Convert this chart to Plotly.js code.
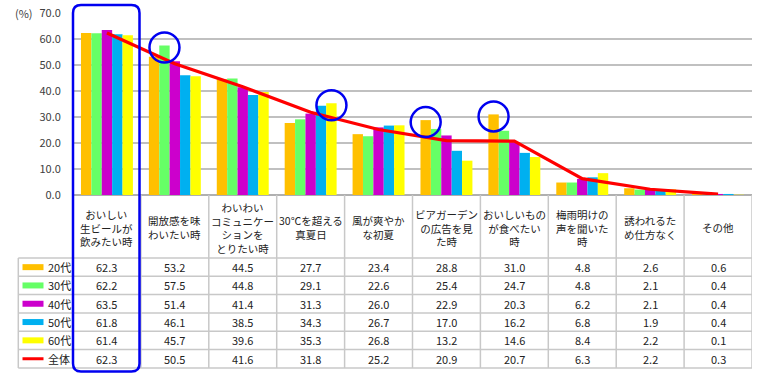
<!DOCTYPE html>
<html>
<head>
<meta charset="utf-8">
<script src="https://cdn.plot.ly/plotly-3.0.1.min.js"></script>
<style>html,body{margin:0;padding:0;background:#fff;}#chart{width:764px;height:374px;}</style>
</head>
<body>
<div id="chart"></div>
<script>
const categories = [
  "おいしい<br>生ビールが<br>飲みたい時",
  "開放感を味<br>わいたい時",
  "わいわい<br>コミュニケー<br>ションを<br>とりたい時",
  "30℃を超える<br>真夏日",
  "風が爽やか<br>な初夏",
  "ビアガーデン<br>の広告を見<br>た時",
  "おいしいもの<br>が食べたい<br>時",
  "梅雨明けの<br>声を聞いた<br>時",
  "誘われるた<br>め仕方なく",
  "その他"
];
const seriesNames = ["20代", "30代", "40代", "50代", "60代"];
const s20 = [62.3, 53.2, 44.5, 27.7, 23.4, 28.8, 31.0, 4.8, 2.6, 0.6];
const s30 = [62.2, 57.5, 44.8, 29.1, 22.6, 25.4, 24.7, 4.8, 2.1, 0.4];
const s40 = [63.5, 51.4, 41.4, 31.3, 26.0, 22.9, 20.3, 6.2, 2.1, 0.4];
const s50 = [61.8, 46.1, 38.5, 34.3, 26.7, 17.0, 16.2, 6.8, 1.9, 0.4];
const s60 = [61.4, 45.7, 39.6, 35.3, 26.8, 13.2, 14.6, 8.4, 2.2, 0.1];
const totalName = "全体";
const total = [62.3, 50.5, 41.6, 31.8, 25.2, 20.9, 20.7, 6.3, 2.2, 0.3];
const yTicks = [0, 10, 20, 30, 40, 50, 60, 70];
// highlighted bars: [category index, series index]
const highlights = [[1, 1], [3, 4], [5, 0], [6, 0]];

const seriesData = [s20, s30, s40, s50, s60];
const colors = ["#FFC000", "#66FF66", "#CC00CC", "#00B0F0", "#FFFF00"];
const lineColor = "#FF0000";
const FONT = "Noto Sans CJK JP, Noto Sans, sans-serif";

// layout geometry (pixels)
const W = 764, H = 374;
const L = 73, R = 752, T = 13, B = 195;
const px = p => (p - L) / (R - L);
const py = p => (B - p) / (B - T);
const bargap = 0.235;
const nS = seriesData.length;
const barW = (1 - bargap) / nS;

const idx = categories.map((c, i) => i);
const traces = seriesData.map((vals, k) => ({
  type: "bar", name: seriesNames[k], x: idx, y: vals,
  marker: {color: colors[k], line: {width: 0}},
  hoverinfo: "y", showlegend: false
}));
traces.push({
  type: "scatter", mode: "lines", name: totalName, x: idx, y: total,
  line: {color: lineColor, width: 3.2}, showlegend: false
});

const shapes = [];
const annotations = [];
const gridCol = "#c8c8c8";

// table geometry
const tableLeft = 18.3;
const headerTop = B, headerBottom = 258;
const rowLines = [258, 276.3, 294.6, 312.9, 331.2, 349.5, 368];

// vertical lines at category boundaries
for (let i = 0; i <= categories.length; i++) {
  shapes.push({type: "line", xref: "x", yref: "paper", x0: i - 0.5, x1: i - 0.5,
    y0: py(headerTop), y1: py(rowLines[rowLines.length - 1]),
    line: {color: gridCol, width: 1.5}, layer: "above"});
}
// legend column left border
shapes.push({type: "line", xref: "paper", yref: "paper", x0: px(tableLeft), x1: px(tableLeft),
  y0: py(rowLines[0]), y1: py(rowLines[rowLines.length - 1]), line: {color: gridCol, width: 1.5}});
// horizontal row lines
rowLines.forEach(r => {
  shapes.push({type: "line", xref: "paper", yref: "paper", x0: px(tableLeft), x1: 1,
    y0: py(r), y1: py(r), line: {color: gridCol, width: 1.5}});
});

// header text
categories.forEach((c, i) => {
  annotations.push({xref: "x", yref: "paper", x: i, y: py((headerTop + headerBottom) / 2 + 1),
    text: c, showarrow: false, xanchor: "center", yanchor: "middle",
    font: {family: FONT, size: 10.5, color: "#222"}, align: "center"});
});

// rows
const rowSeries = seriesData.concat([total]);
const rowNames = seriesNames.concat([totalName]);
const rowColors = colors.concat([lineColor]);
rowSeries.forEach((vals, r) => {
  const yc = (rowLines[r] + rowLines[r + 1]) / 2;
  vals.forEach((v, i) => {
    annotations.push({xref: "x", yref: "paper", x: i, y: py(yc), text: v.toFixed(1),
      showarrow: false, xanchor: "center", yanchor: "middle",
      font: {family: FONT, size: 11, color: "#222"}});
  });
  // legend swatch
  const isLine = r === rowSeries.length - 1;
  const th = isLine ? 3 : 6;
  shapes.push({type: "rect", xref: "paper", yref: "paper", x0: px(22.5), x1: px(43.5),
    y0: py(yc + th / 2), y1: py(yc - th / 2), fillcolor: rowColors[r], line: {width: 0}});
  annotations.push({xref: "paper", yref: "paper", x: px(45.5), y: py(yc), text: rowNames[r],
    showarrow: false, xanchor: "left", yanchor: "middle",
    font: {family: FONT, size: 11, color: "#222"}});
});

// (%) label
annotations.push({xref: "paper", yref: "paper", x: px(35), y: py(13.5), text: "(%)",
  showarrow: false, xanchor: "right", yanchor: "middle",
  font: {family: FONT, size: 11, color: "#404040"}});

// blue rounded highlight box around first category
const bx0 = px(73), bx1 = px(139.5), by0 = py(371.5), by1 = py(5);
const rx = 8 / (R - L), ry = 8 / (B - T);
shapes.push({type: "path", xref: "paper", yref: "paper", layer: "above",
  path: `M ${bx0 + rx} ${by1} L ${bx1 - rx} ${by1} Q ${bx1} ${by1} ${bx1} ${by1 - ry} ` +
        `L ${bx1} ${by0 + ry} Q ${bx1} ${by0} ${bx1 - rx} ${by0} L ${bx0 + rx} ${by0} ` +
        `Q ${bx0} ${by0} ${bx0} ${by0 + ry} L ${bx0} ${by1 - ry} Q ${bx0} ${by1} ${bx0 + rx} ${by1} Z`,
  line: {color: "#0000F0", width: 2.5}});

// circles on highlighted bars
highlights.forEach(([ci, si]) => {
  shapes.push({type: "circle", xref: "x", yref: "y", layer: "above",
    xsizemode: "pixel", ysizemode: "pixel",
    xanchor: ci + (si - (nS - 1) / 2) * barW, yanchor: seriesData[si][ci],
    x0: -15, x1: 15, y0: -17, y1: 13,
    line: {color: "#0000F0", width: 2.5}});
});

const layout = {
  width: W, height: H,
  margin: {l: L, r: W - R, t: T, b: H - B, pad: 0},
  paper_bgcolor: "#fff", plot_bgcolor: "#fff",
  barmode: "group", bargap: bargap, bargroupgap: 0,
  showlegend: false,
  xaxis: {type: "linear", range: [-0.5, categories.length - 0.5], showticklabels: false,
    showgrid: false, zeroline: false, showline: false, ticks: "", fixedrange: true},
  yaxis: {range: [0, 70], tickvals: yTicks, tickformat: ".1f", showgrid: true,
    gridcolor: "#c0c0c0", gridwidth: 1.3, zeroline: true, zerolinecolor: "#b0b0b0", zerolinewidth: 1.5,
    showline: false, ticks: "outside", ticklen: 9, tickcolor: "rgba(0,0,0,0)",
    tickfont: {family: FONT, size: 11, color: "#404040"}, fixedrange: true},
  shapes: shapes,
  annotations: annotations,
  font: {family: FONT}
};

Plotly.newPlot("chart", traces, layout, {displayModeBar: false, staticPlot: true});
</script>
</body>
</html>
